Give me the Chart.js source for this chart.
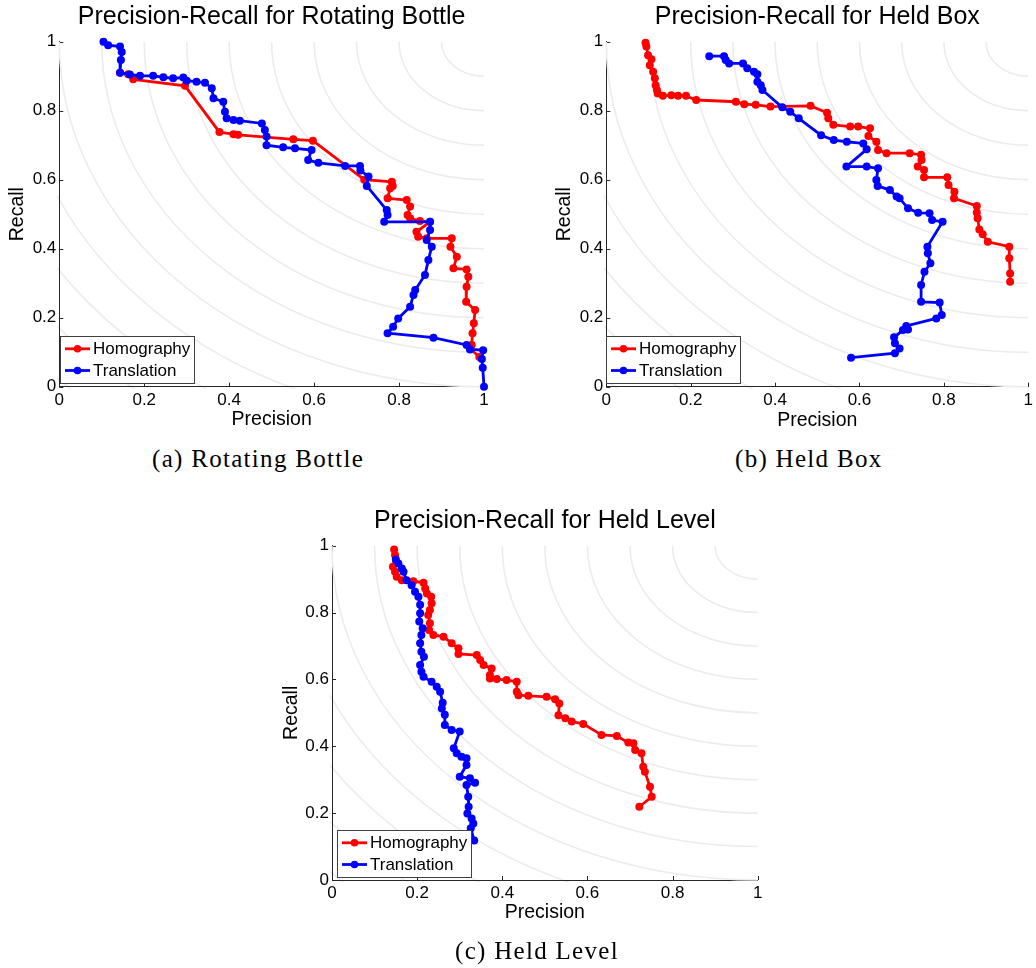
<!DOCTYPE html>
<html>
<head>
<meta charset="utf-8">
<script src="https://cdn.jsdelivr.net/npm/chart.js@4.4.0/dist/chart.umd.min.js"></script>
<style>
  body { margin: 0; background: #fff; }
  #page { position: relative; width: 1036px; height: 968px; overflow: hidden; background: #fff; }
  #page canvas { position: absolute; }
  .cap { position: absolute; font-family: "Liberation Serif", "Times New Roman", serif; font-size: 25px;
         line-height: 25px; letter-spacing: 1.3px; color: #000; white-space: nowrap; }
</style>
</head>
<body>
<div id="page">
  <canvas id="bottle" width="500" height="440" style="left:0px;top:0px"></canvas>
  <canvas id="box" width="496" height="440" style="left:540px;top:0px"></canvas>
  <canvas id="level" width="500" height="440" style="left:270px;top:500px"></canvas>
  <div class="cap" style="left:152px;top:446px">(a) Rotating Bottle</div>
  <div class="cap" style="left:735px;top:446px">(b) Held Box</div>
  <div class="cap" style="left:455px;top:938px">(c) Held Level</div>
</div>
<script>
// Axis ticks shared by all three panels
const tickValues = [0, 0.2, 0.4, 0.6, 0.8, 1];
const tickLabels = ['0', '0.2', '0.4', '0.6', '0.8', '1'];
// Radii of the background arcs centred on (1, 1)
const arcRadii = [0.1, 0.2, 0.3, 0.4, 0.5, 0.6, 0.7, 0.8, 0.9, 1.0, 1.1, 1.2, 1.3, 1.4];
const seriesNames = ['Homography', 'Translation'];

// (a) Rotating Bottle
const bottleHomPrecision = [0.143, 0.162, 0.174, 0.296, 0.377, 0.410, 0.421, 0.551, 0.597, 0.718, 0.783, 0.785, 0.779, 0.773, 0.818, 0.826, 0.820, 0.826, 0.849, 0.873, 0.841, 0.845, 0.865, 0.924, 0.921, 0.936, 0.928, 0.959, 0.963, 0.959, 0.958, 0.979, 0.976, 0.973, 0.971, 0.967, 0.989];
const bottleHomRecall    = [0.910, 0.906, 0.891, 0.872, 0.738, 0.732, 0.730, 0.717, 0.713, 0.600, 0.594, 0.582, 0.575, 0.546, 0.541, 0.522, 0.498, 0.488, 0.480, 0.478, 0.449, 0.435, 0.430, 0.430, 0.406, 0.377, 0.343, 0.340, 0.319, 0.290, 0.246, 0.222, 0.184, 0.155, 0.121, 0.111, 0.086];
const bottleTrPrecision  = [0.104, 0.115, 0.143, 0.147, 0.145, 0.143, 0.166, 0.190, 0.221, 0.245, 0.268, 0.292, 0.300, 0.323, 0.343, 0.359, 0.363, 0.386, 0.390, 0.394, 0.410, 0.425, 0.477, 0.484, 0.488, 0.488, 0.527, 0.555, 0.594, 0.586, 0.610, 0.673, 0.708, 0.709, 0.728, 0.724, 0.771, 0.773, 0.765, 0.873, 0.873, 0.865, 0.877, 0.869, 0.861, 0.838, 0.834, 0.826, 0.798, 0.786, 0.773, 0.881, 0.959, 0.967, 0.998, 0.995, 0.997, 1.000];
const bottleTrRecall     = [1.000, 0.990, 0.986, 0.970, 0.947, 0.910, 0.905, 0.901, 0.901, 0.897, 0.894, 0.896, 0.887, 0.884, 0.881, 0.865, 0.836, 0.826, 0.797, 0.778, 0.773, 0.771, 0.763, 0.744, 0.725, 0.700, 0.694, 0.691, 0.686, 0.657, 0.649, 0.640, 0.640, 0.627, 0.609, 0.582, 0.512, 0.498, 0.478, 0.478, 0.454, 0.425, 0.406, 0.367, 0.324, 0.280, 0.266, 0.232, 0.198, 0.174, 0.155, 0.142, 0.121, 0.108, 0.106, 0.080, 0.055, 0.000];

// (b) Held Box
const boxHomPrecision = [0.093, 0.095, 0.099, 0.107, 0.103, 0.111, 0.115, 0.117, 0.120, 0.122, 0.134, 0.154, 0.170, 0.189, 0.213, 0.307, 0.327, 0.354, 0.389, 0.484, 0.523, 0.526, 0.538, 0.578, 0.597, 0.625, 0.621, 0.640, 0.644, 0.664, 0.719, 0.746, 0.747, 0.738, 0.753, 0.753, 0.808, 0.811, 0.825, 0.824, 0.878, 0.878, 0.880, 0.884, 0.892, 0.904, 0.955, 0.955, 0.957, 0.957];
const boxHomRecall    = [0.997, 0.986, 0.961, 0.949, 0.932, 0.913, 0.894, 0.874, 0.860, 0.850, 0.843, 0.845, 0.843, 0.843, 0.831, 0.826, 0.819, 0.817, 0.812, 0.814, 0.794, 0.778, 0.759, 0.754, 0.754, 0.749, 0.727, 0.710, 0.686, 0.677, 0.677, 0.672, 0.657, 0.638, 0.628, 0.607, 0.607, 0.585, 0.565, 0.546, 0.524, 0.505, 0.488, 0.456, 0.442, 0.420, 0.406, 0.372, 0.328, 0.304];
const boxTrPrecision  = [0.244, 0.279, 0.283, 0.291, 0.324, 0.334, 0.350, 0.358, 0.358, 0.366, 0.370, 0.417, 0.436, 0.456, 0.509, 0.539, 0.570, 0.609, 0.617, 0.569, 0.617, 0.644, 0.640, 0.643, 0.672, 0.688, 0.695, 0.715, 0.739, 0.766, 0.772, 0.797, 0.761, 0.762, 0.768, 0.754, 0.746, 0.746, 0.790, 0.795, 0.782, 0.711, 0.715, 0.703, 0.682, 0.684, 0.695, 0.684, 0.580];
const boxTrRecall     = [0.958, 0.958, 0.947, 0.937, 0.937, 0.923, 0.913, 0.906, 0.884, 0.874, 0.860, 0.810, 0.797, 0.778, 0.729, 0.715, 0.710, 0.705, 0.688, 0.638, 0.638, 0.633, 0.599, 0.582, 0.570, 0.551, 0.546, 0.517, 0.504, 0.503, 0.483, 0.478, 0.406, 0.387, 0.358, 0.333, 0.295, 0.246, 0.244, 0.208, 0.198, 0.176, 0.166, 0.164, 0.143, 0.126, 0.111, 0.097, 0.084];

// (c) Held Level
const levelHomPrecision = [0.146, 0.148, 0.143, 0.148, 0.152, 0.164, 0.191, 0.215, 0.219, 0.223, 0.233, 0.234, 0.230, 0.226, 0.230, 0.228, 0.238, 0.262, 0.281, 0.297, 0.297, 0.340, 0.348, 0.356, 0.375, 0.371, 0.371, 0.387, 0.410, 0.434, 0.434, 0.438, 0.461, 0.504, 0.524, 0.534, 0.532, 0.548, 0.563, 0.590, 0.633, 0.669, 0.696, 0.708, 0.712, 0.727, 0.731, 0.735, 0.747, 0.751, 0.722];
const levelHomRecall    = [0.989, 0.972, 0.937, 0.922, 0.907, 0.897, 0.894, 0.889, 0.872, 0.857, 0.847, 0.828, 0.808, 0.793, 0.768, 0.748, 0.733, 0.728, 0.708, 0.693, 0.676, 0.673, 0.658, 0.643, 0.633, 0.613, 0.603, 0.601, 0.598, 0.593, 0.563, 0.553, 0.551, 0.548, 0.541, 0.528, 0.493, 0.484, 0.474, 0.467, 0.434, 0.431, 0.411, 0.409, 0.389, 0.379, 0.339, 0.324, 0.279, 0.249, 0.219];
const levelTrPrecision  = [0.150, 0.156, 0.164, 0.168, 0.175, 0.187, 0.195, 0.203, 0.207, 0.207, 0.205, 0.213, 0.210, 0.207, 0.210, 0.216, 0.207, 0.210, 0.215, 0.234, 0.246, 0.254, 0.260, 0.258, 0.265, 0.265, 0.281, 0.300, 0.286, 0.293, 0.304, 0.316, 0.316, 0.300, 0.324, 0.336, 0.316, 0.320, 0.321, 0.318, 0.328, 0.332, 0.326, 0.334];
const levelTrRecall     = [0.959, 0.947, 0.932, 0.922, 0.897, 0.882, 0.862, 0.847, 0.823, 0.798, 0.773, 0.753, 0.733, 0.708, 0.683, 0.668, 0.643, 0.623, 0.608, 0.593, 0.578, 0.563, 0.530, 0.513, 0.494, 0.464, 0.449, 0.444, 0.394, 0.379, 0.369, 0.364, 0.344, 0.309, 0.304, 0.291, 0.284, 0.249, 0.219, 0.199, 0.184, 0.169, 0.155, 0.118];

const SANS = '"Liberation Sans", Arial, Helvetica, sans-serif';
const AXIS_COLOR = '#262626';

// Strokes the background arcs whose radius lies in (rMin, rMax]
function drawArcs(chart, rMin, rMax) {
  const { ctx, chartArea: a, scales: { x, y } } = chart;
  const cx = x.getPixelForValue(1), cy = y.getPixelForValue(1);
  const ux = x.getPixelForValue(1) - x.getPixelForValue(0);
  const uy = y.getPixelForValue(0) - y.getPixelForValue(1);
  ctx.save();
  ctx.beginPath();
  ctx.rect(a.left - 2, a.top, a.right - a.left + 2, a.bottom - a.top + 2);
  ctx.clip();
  ctx.strokeStyle = '#ececec';
  ctx.lineWidth = 1.6;
  arcRadii.filter(r => r > rMin && r <= rMax).forEach(r => {
    ctx.beginPath();
    ctx.ellipse(cx, cy, r * ux, r * uy, 0, Math.PI / 2, Math.PI);
    ctx.stroke();
  });
  ctx.restore();
}

// Inward tick marks plus the light concentric arcs behind the curves
const prBackdrop = {
  id: 'prBackdrop',
  beforeDraw(chart) {
    // outer arcs sit beneath the axis lines
    drawArcs(chart, 1.0, Infinity);
  },
  beforeDatasetsDraw(chart) {
    const { ctx, chartArea: a, scales: { x, y } } = chart;
    ctx.save();
    ctx.strokeStyle = AXIS_COLOR;
    ctx.lineWidth = 1;
    ctx.beginPath();
    tickValues.forEach(v => {
      const px = Math.round(x.getPixelForValue(v)) + 0.5;
      ctx.moveTo(px, a.bottom);
      ctx.lineTo(px, a.bottom - 4);
      const py = Math.round(y.getPixelForValue(v)) + 0.5;
      ctx.moveTo(a.left, py);
      ctx.lineTo(a.left + 4, py);
    });
    ctx.stroke();
    ctx.restore();
    // inner arcs are stroked over the axes
    drawArcs(chart, 0, 1.0);
  }
};

// Boxed legend in the lower-left corner of the plot area
const prLegend = {
  id: 'prLegend',
  afterDatasetsDraw(chart, args, opts) {
    const { ctx, chartArea: a } = chart;
    const w = 134, h = 47;
    const left = Math.round(a.left + opts.dx);
    const top = Math.round(a.bottom - 3.4 - h);
    ctx.save();
    ctx.fillStyle = '#fff';
    ctx.fillRect(left, top, w, h);
    ctx.strokeStyle = '#404040';
    ctx.lineWidth = 1;
    ctx.strokeRect(left + 0.5, top + 0.5, w, h);
    ctx.font = '17px ' + SANS;
    ctx.textBaseline = 'middle';
    chart.data.datasets.forEach((ds, i) => {
      const yy = top + 12.8 + i * 21.7;
      ctx.strokeStyle = ds.borderColor;
      ctx.lineWidth = 2.8;
      ctx.beginPath();
      ctx.moveTo(left + 5, yy);
      ctx.lineTo(left + 30, yy);
      ctx.stroke();
      ctx.fillStyle = ds.borderColor;
      ctx.beginPath();
      ctx.arc(left + 17.5, yy, 3.8, 0, Math.PI * 2);
      ctx.fill();
      ctx.fillStyle = '#000';
      ctx.fillText(ds.label, left + 33, yy + 0.5);
    });
    ctx.restore();
  }
};

function toPoints(precision, recall) {
  return precision.map((p, i) => ({ x: p, y: recall[i] }));
}

function makePanel(id, title, homP, homR, trP, trR, g) {
  return new Chart(document.getElementById(id), {
    type: 'scatter',
    data: {
      datasets: [
        { label: seriesNames[0], data: toPoints(homP, homR), borderColor: '#ff0000', backgroundColor: '#ff0000',
          showLine: true, order: 1, clip: false },
        { label: seriesNames[1], data: toPoints(trP, trR), borderColor: '#0000ff', backgroundColor: '#0000ff',
          showLine: true, order: 0, clip: false }
      ]
    },
    options: {
      responsive: false,
      animation: false,
      devicePixelRatio: 1,
      events: [],
      layout: { autoPadding: false, padding: { left: 0, right: g.padRight, top: 0, bottom: 0 } },
      elements: {
        line: { borderWidth: 2.8, tension: 0 },
        point: { radius: 4, borderWidth: 0, hoverRadius: 4 }
      },
      plugins: {
        legend: { display: false },
        tooltip: { enabled: false },
        title: {
          display: true, text: title, color: '#000', fullSize: false,
          font: { family: SANS, size: 25, weight: 'normal', lineHeight: 1.2 },
          padding: { top: g.titleTop, bottom: g.titleBottom }
        },
        prLegend: { dx: g.legendDx }
      },
      scales: {
        x: {
          type: 'linear', min: 0, max: 1,
          afterBuildTicks: s => { s.ticks = tickValues.map(v => ({ value: v })); },
          afterFit: s => { s.height = g.xAxisHeight; },
          grid: { display: false, drawTicks: false },
          border: { display: true, color: AXIS_COLOR, width: 1 },
          ticks: { autoSkip: false, maxRotation: 0, padding: 3, color: '#000',
                   font: { family: SANS, size: 17 }, callback: (v, i) => tickLabels[i] },
          title: { display: true, text: 'Precision', color: '#000',
                   font: { family: SANS, size: 19.5, lineHeight: 1.2 }, padding: { top: 0, bottom: g.xTitlePad } }
        },
        y: {
          type: 'linear', min: 0, max: 1,
          afterBuildTicks: s => { s.ticks = tickValues.map(v => ({ value: v })); },
          afterFit: s => { s.width = g.axisLeft; },
          grid: { display: false, drawTicks: false },
          border: { display: true, color: AXIS_COLOR, width: 1 },
          ticks: { autoSkip: false, padding: 3, color: '#000',
                   font: { family: SANS, size: 17 }, callback: (v, i) => tickLabels[i] },
          title: { display: true, text: 'Recall', color: '#000',
                   font: { family: SANS, size: 19.5, lineHeight: 1.2 }, padding: { top: g.yTitlePad, bottom: 0 } }
        }
      }
    },
    plugins: [prBackdrop, prLegend]
  });
}

makePanel('bottle', 'Precision-Recall for Rotating Bottle',
  bottleHomPrecision, bottleHomRecall, bottleTrPrecision, bottleTrRecall,
  { axisLeft: 59.3, padRight: 16, xAxisHeight: 53.3, titleTop: 2, titleBottom: 9.7, yTitlePad: 6.3, xTitlePad: 8.3, legendDx: 1 });

makePanel('box', 'Precision-Recall for Held Box',
  boxHomPrecision, boxHomRecall, boxTrPrecision, boxTrRecall,
  { axisLeft: 66.3, padRight: 5, xAxisHeight: 53.3, titleTop: 2, titleBottom: 9.7, yTitlePad: 13.3, xTitlePad: 7.6, legendDx: 0 });

makePanel('level', 'Precision-Recall for Held Level',
  levelHomPrecision, levelHomRecall, levelTrPrecision, levelTrRecall,
  { axisLeft: 62, padRight: 12.3, xAxisHeight: 60, titleTop: 5.7, titleBottom: 10, yTitlePad: 9.6, xTitlePad: 15.6, legendDx: 4.7 });
</script>
</body>
</html>
